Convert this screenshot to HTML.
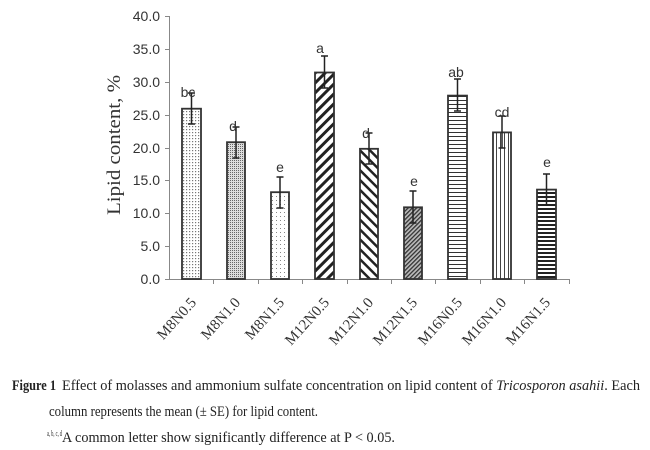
<!DOCTYPE html>
<html><head><meta charset="utf-8"><style>
html,body{margin:0;padding:0;background:#fff;}
svg{display:block;}
</style></head><body>
<svg width="650" height="450" viewBox="0 0 650 450" xmlns="http://www.w3.org/2000/svg">
<defs>
<pattern id="dots1" width="3" height="3" patternUnits="userSpaceOnUse"><rect width="3" height="3" fill="#fff"/><rect width="1.2" height="1.2" fill="#777"/></pattern>
<pattern id="dots2" width="2" height="2" patternUnits="userSpaceOnUse"><rect width="2" height="2" fill="#ddd"/><rect width="1" height="1" fill="#666"/></pattern>
<pattern id="dots3" width="4" height="4" patternUnits="userSpaceOnUse"><rect width="4" height="4" fill="#fff"/><rect width="1" height="1" fill="#888"/></pattern>
<pattern id="diagA" width="7" height="7" patternUnits="userSpaceOnUse" patternTransform="rotate(45)"><rect width="7" height="7" fill="#fff"/><rect width="3" height="7" fill="#222"/></pattern>
<pattern id="diagB" width="7" height="7" patternUnits="userSpaceOnUse" patternTransform="rotate(-45)"><rect width="7" height="7" fill="#fff"/><rect width="2.5" height="7" fill="#222"/></pattern>
<pattern id="diagC" width="3" height="3" patternUnits="userSpaceOnUse" patternTransform="rotate(45)"><rect width="3" height="3" fill="#bbb"/><rect width="1.3" height="3" fill="#333"/></pattern>
<pattern id="hor1" width="4" height="4" patternUnits="userSpaceOnUse"><rect width="4" height="4" fill="#fff"/><rect width="4" height="1" fill="#333"/></pattern>
<pattern id="ver1" width="4" height="4" patternUnits="userSpaceOnUse"><rect width="4" height="4" fill="#fff"/><rect width="1" height="4" fill="#444"/></pattern>
<pattern id="hor2" width="4" height="4" patternUnits="userSpaceOnUse"><rect width="4" height="4" fill="#fff"/><rect width="4" height="2" fill="#222"/></pattern>
</defs>
<g font-family="Liberation Sans, sans-serif" font-size="14" fill="#333" text-anchor="end">
<text x="160" y="284">0.0</text>
<text x="160" y="251">5.0</text>
<text x="160" y="218">10.0</text>
<text x="160" y="185">15.0</text>
<text x="160" y="153">20.0</text>
<text x="160" y="120">25.0</text>
<text x="160" y="87">30.0</text>
<text x="160" y="54">35.0</text>
<text x="160" y="21">40.0</text>
</g>
<g stroke="#888" stroke-width="1">
<line x1="169.5" y1="16" x2="169.5" y2="279"/>
<line x1="169" y1="279.5" x2="569" y2="279.5"/>
<line x1="165" y1="16.5" x2="169" y2="16.5"/><line x1="165" y1="49.5" x2="169" y2="49.5"/><line x1="165" y1="82.5" x2="169" y2="82.5"/><line x1="165" y1="115.5" x2="169" y2="115.5"/><line x1="165" y1="148.5" x2="169" y2="148.5"/><line x1="165" y1="180.5" x2="169" y2="180.5"/><line x1="165" y1="213.5" x2="169" y2="213.5"/><line x1="165" y1="246.5" x2="169" y2="246.5"/><line x1="165" y1="279.5" x2="169" y2="279.5"/>
<line x1="213.5" y1="279" x2="213.5" y2="284"/><line x1="258.5" y1="279" x2="258.5" y2="284"/><line x1="302.5" y1="279" x2="302.5" y2="284"/><line x1="347.5" y1="279" x2="347.5" y2="284"/><line x1="391.5" y1="279" x2="391.5" y2="284"/><line x1="435.5" y1="279" x2="435.5" y2="284"/><line x1="480.5" y1="279" x2="480.5" y2="284"/><line x1="524.5" y1="279" x2="524.5" y2="284"/><line x1="569.5" y1="279" x2="569.5" y2="284"/>
</g>
<text transform="translate(120,145) rotate(-90)" font-family="Liberation Serif, serif" font-size="19" fill="#333" text-anchor="middle" textLength="140" lengthAdjust="spacingAndGlyphs">Lipid content, %</text>
<g stroke="#333" stroke-width="1.8">
<rect x="182" y="108.7" width="19" height="170.3" fill="url(#dots1)"/>
<rect x="227" y="142.2" width="18" height="136.8" fill="url(#dots2)"/>
<rect x="271" y="192.2" width="18" height="86.8" fill="url(#dots3)"/>
<rect x="315" y="72.5" width="19" height="206.5" fill="url(#diagA)"/>
<rect x="360" y="148.8" width="18" height="130.2" fill="url(#diagB)"/>
<rect x="404" y="207.3" width="18" height="71.7" fill="url(#diagC)"/>
<rect x="448" y="95.6" width="19" height="183.4" fill="url(#hor1)"/>
<rect x="493" y="132.4" width="18" height="146.6" fill="url(#ver1)"/>
<rect x="537" y="189.6" width="19" height="89.4" fill="url(#hor2)"/>
</g>
<g stroke="#222" stroke-width="1.5" fill="none">
<path d="M191.5 93v31M188 93h7M188 124h7"/>
<path d="M236 127v31M232.5 127h7M232.5 158h7"/>
<path d="M280 177v31M276.5 177h7M276.5 208h7"/>
<path d="M324.5 56v32M321 56h7M321 88h7"/>
<path d="M369 133v31M365.5 133h7M365.5 164h7"/>
<path d="M413 191v32M409.5 191h7M409.5 223h7"/>
<path d="M457.5 79v32M454 79h7M454 111h7"/>
<path d="M502 116v32M498.5 116h7M498.5 148h7"/>
<path d="M546.5 174v31M543 174h7M543 205h7"/>
</g>
<g font-family="Liberation Sans, sans-serif" font-size="14" fill="#333" text-anchor="middle">
<text x="188" y="97">bc</text>
<text x="233" y="131">d</text>
<text x="280" y="172">e</text>
<text x="320" y="53">a</text>
<text x="366" y="138">d</text>
<text x="414" y="186">e</text>
<text x="456" y="77">ab</text>
<text x="502" y="117">cd</text>
<text x="547" y="167">e</text>
</g>
<g font-family="Liberation Serif, serif" font-size="15" fill="#333" text-anchor="end">
<text transform="translate(197,303) rotate(-48)">M8N0.5</text>
<text transform="translate(241,303) rotate(-48)">M8N1.0</text>
<text transform="translate(285,303) rotate(-48)">M8N1.5</text>
<text transform="translate(330,303) rotate(-48)">M12N0.5</text>
<text transform="translate(374,303) rotate(-48)">M12N1.0</text>
<text transform="translate(418,303) rotate(-48)">M12N1.5</text>
<text transform="translate(463,303) rotate(-48)">M16N0.5</text>
<text transform="translate(507,303) rotate(-48)">M16N1.0</text>
<text transform="translate(551,303) rotate(-48)">M16N1.5</text>
</g>
<g font-family="Liberation Serif, serif" font-size="15" fill="#222">
<text x="12" y="390" textLength="44" lengthAdjust="spacingAndGlyphs" font-weight="bold">Figure 1</text>
<text x="62" y="390" textLength="578" lengthAdjust="spacingAndGlyphs">Effect of molasses and ammonium sulfate concentration on lipid content of <tspan font-style="italic">Tricosporon  asahii</tspan>.  Each</text>
<text x="49" y="416" textLength="269" lengthAdjust="spacingAndGlyphs">column represents the mean (± SE) for lipid content.</text>
<text x="47" y="436" font-size="8" textLength="15" lengthAdjust="spacingAndGlyphs">a, b, c, d</text>
<text x="62" y="442" textLength="333" lengthAdjust="spacingAndGlyphs">A common letter show significantly difference at P &lt; 0.05.</text>
</g>
</svg>
</body></html>
